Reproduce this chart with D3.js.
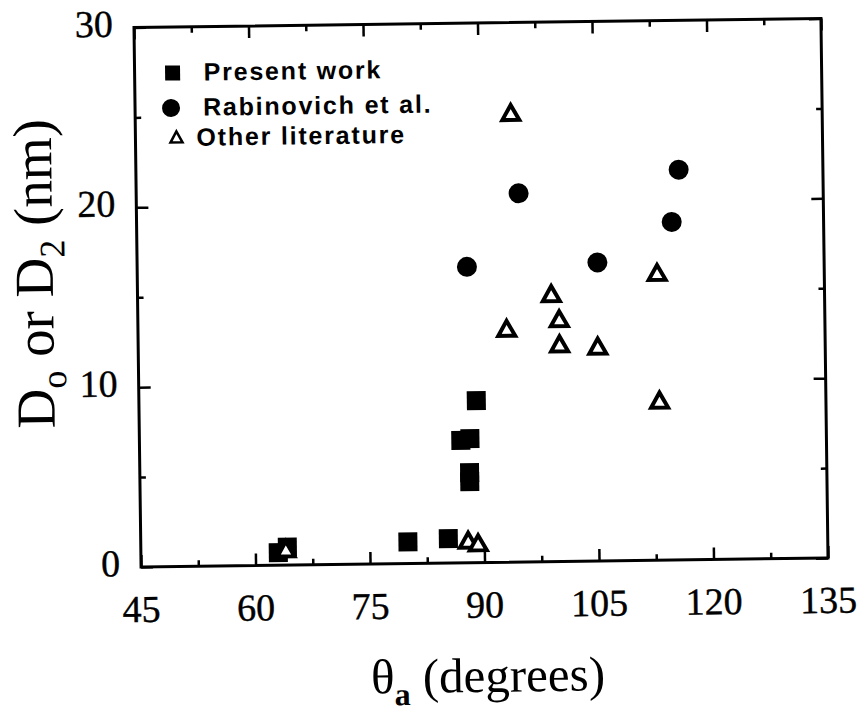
<!DOCTYPE html>
<html><head><meta charset="utf-8">
<script src="https://cdn.jsdelivr.net/npm/d3@7"></script>
<style>body{margin:0;background:#fff;} svg{display:block;}</style>
</head><body>
<svg id="chart" width="863" height="711"></svg>
<script>
// ---- data ----
const xTicks = [45, 60, 75, 90, 105, 120, 135];
const yTicks = [0, 10, 20, 30];
const xMinor = [52.5, 67.5, 82.5, 97.5, 112.5, 127.5];
const yMinor = [5, 15, 25];
const seriesNames = ["Present work", "Rabinovich et al.", "Other literature"];
// [theta_a (deg), D (nm)]
const presentWork = [[63.0,0.7],[64.2,1.0],[80.0,1.2],[85.3,1.35],[87.1,6.8],[88.3,6.9],[88.2,5.0],[88.2,4.5],[89.2,9.0]];
const rabinovich = [[116.1,21.7],[95.1,20.5],[115.1,18.8],[88.2,16.45],[105.3,16.6]];
const otherLiterature = [[64.0,0.9],[87.9,1.25],[89.2,1.1],[94.2,25.0],[113.1,16.0],[99.2,14.9],[100.2,13.5],[93.3,13.0],[100.2,12.1],[105.2,11.95],[113.2,8.9]];

// ---- layout ----
const L = 137.5, R = 824.5, T = 23, B = 562.5;
const svg = d3.select("#chart");
const root = svg.append("g").attr("transform", `rotate(-0.75, ${(L+R)/2}, ${(T+B)/2})`);

const x = d3.scaleLinear().domain([45, 135]).range([L, R]);
const y = d3.scaleLinear().domain([0, 30]).range([B, T]);

const serif = "'Liberation Serif','Times New Roman',serif";
const sans = "'Liberation Sans',Arial,Helvetica,sans-serif";

// axes (ticks inward, mirrored)
function styleAxis(g) {
  g.select(".domain").remove();
  g.selectAll("line").attr("stroke", "#000").attr("stroke-width", 2.5);
}
root.append("g").attr("transform", `translate(0,${B})`)
  .call(d3.axisTop(x).tickValues(xTicks).tickSize(12).tickFormat("")).call(styleAxis);
root.append("g").attr("transform", `translate(0,${B})`)
  .call(d3.axisTop(x).tickValues(xMinor).tickSize(6).tickFormat("")).call(styleAxis);
root.append("g").attr("transform", `translate(0,${T})`)
  .call(d3.axisBottom(x).tickValues(xTicks).tickSize(12).tickFormat("")).call(styleAxis);
root.append("g").attr("transform", `translate(0,${T})`)
  .call(d3.axisBottom(x).tickValues(xMinor).tickSize(6).tickFormat("")).call(styleAxis);
root.append("g").attr("transform", `translate(${L},0)`)
  .call(d3.axisRight(y).tickValues(yTicks).tickSize(12).tickFormat("")).call(styleAxis);
root.append("g").attr("transform", `translate(${L},0)`)
  .call(d3.axisRight(y).tickValues(yMinor).tickSize(6).tickFormat("")).call(styleAxis);
root.append("g").attr("transform", `translate(${R},0)`)
  .call(d3.axisLeft(y).tickValues(yTicks).tickSize(12).tickFormat("")).call(styleAxis);
root.append("g").attr("transform", `translate(${R},0)`)
  .call(d3.axisLeft(y).tickValues(yMinor).tickSize(6).tickFormat("")).call(styleAxis);

// frame
root.append("rect").attr("x", L).attr("y", T).attr("width", R - L).attr("height", B - T)
  .attr("fill", "none").attr("stroke", "#000").attr("stroke-width", 3);

// tick labels
root.append("g").selectAll("text").data(xTicks).join("text")
  .attr("x", d => x(d)).attr("y", B + 55)
  .attr("text-anchor", "middle").attr("font-family", serif).attr("font-size", 38)
  .attr("stroke", "#000").attr("stroke-width", 0.4)
  .text(d => d);
root.append("g").selectAll("text").data(yTicks).join("text")
  .attr("x", L - 21).attr("y", d => y(d) + 9)
  .attr("text-anchor", "end").attr("font-family", serif).attr("font-size", 38)
  .attr("stroke", "#000").attr("stroke-width", 0.4)
  .text(d => d);

// axis titles
const xt = root.append("text").attr("x", (L + R) / 2 + 2).attr("y", 692)
  .attr("text-anchor", "middle").attr("font-family", serif).attr("font-size", 49);
xt.append("tspan").text("\u03B8");
xt.append("tspan").attr("font-size", 32).attr("font-weight", "bold").attr("dy", 12).text("a");
xt.append("tspan").attr("dy", -12).text(" (degrees)");

const yt = root.append("text").attr("transform", `translate(53,268) rotate(-90)`)
  .attr("text-anchor", "middle").attr("font-family", serif).attr("font-size", 55);
yt.append("tspan").text("D");
yt.append("tspan").attr("font-size", 36).attr("dy", 12).text("o");
yt.append("tspan").attr("dy", -12).text(" or D");
yt.append("tspan").attr("font-size", 36).attr("dy", 12).text("2");
yt.append("tspan").attr("dy", -12).text(" (nm)");

// markers
const sq = 19, circR = 10;
const triPath = (w, h) => `M0,${-h/2}L${w/2},${h/2}L${-w/2},${h/2}Z`;

root.append("g").selectAll("rect").data(presentWork).join("rect")
  .attr("x", d => x(d[0]) - sq / 2).attr("y", d => y(d[1]) - sq / 2)
  .attr("width", sq).attr("height", sq).attr("fill", "#000");

root.append("g").selectAll("circle").data(rabinovich).join("circle")
  .attr("cx", d => x(d[0])).attr("cy", d => y(d[1])).attr("r", circR).attr("fill", "#000");

root.append("g").selectAll("path").data(otherLiterature).join("path")
  .attr("transform", d => `translate(${x(d[0])},${y(d[1])})`)
  .attr("d", triPath(17, 15)).attr("fill", "#fff").attr("stroke", "#000")
  .attr("stroke-width", 4).attr("stroke-linejoin", "miter");

// legend
const lg = root.append("g");
const lx = L + 38, ly = T + 46;
const rowY = [0, 35, 65];
lg.append("rect").attr("x", lx - 7.5).attr("y", ly - 7.5).attr("width", 15).attr("height", 15).attr("fill", "#000");
lg.append("circle").attr("cx", lx - 2).attr("cy", ly + rowY[1]).attr("r", 9).attr("fill", "#000");
lg.append("path").attr("transform", `translate(${lx + 3},${ly + rowY[2] - 1})`)
  .attr("d", triPath(12, 11)).attr("fill", "#fff").attr("stroke", "#000").attr("stroke-width", 2.5);
const textX = [lx + 31, lx + 30, lx + 23];
lg.selectAll("text").data(seriesNames).join("text")
  .attr("x", (d, i) => textX[i]).attr("y", (d, i) => ly + 8 + rowY[i])
  .attr("font-family", sans).attr("font-weight", "bold").attr("font-size", 25)
  .attr("letter-spacing", 1.8)
  .text(d => d);
</script>
</body></html>
